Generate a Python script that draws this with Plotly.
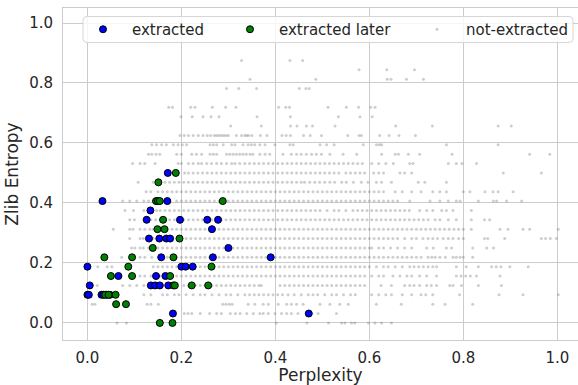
import plotly.graph_objects as go

# ---------------- data ----------------
extracted_x = [0.171, 0.032, 0.170, 0.134, 0.126, 0.197, 0.255, 0.278, 0.265,
               0.131, 0.153, 0.168, 0.176, 0.300, 0.157, 0.267, 0.390,
               0.000, 0.200, 0.209, 0.224, 0.066, 0.146, 0.166,
               0.005, 0.135, 0.144, 0.154, 0.172,
               0.000, 0.003, 0.030, 0.034, 0.041, 0.048, 0.182, 0.471]
extracted_y = [0.5, 0.40625, 0.40625, 0.375, 0.34375, 0.34375, 0.34375, 0.34375, 0.3125,
               0.28125, 0.28125, 0.28125, 0.28125, 0.25, 0.21875, 0.21875, 0.21875,
               0.1875, 0.1875, 0.1875, 0.1875, 0.15625, 0.15625, 0.15625,
               0.125, 0.125, 0.125, 0.125, 0.125,
               0.09375, 0.09375, 0.09375, 0.09375, 0.09375, 0.09375, 0.03125, 0.03125]

later_x = [0.188, 0.151, 0.146, 0.150, 0.154, 0.288, 0.161, 0.149, 0.164, 0.196,
           0.139, 0.036, 0.095, 0.183, 0.087, 0.264, 0.050, 0.095, 0.176,
           0.183, 0.186, 0.222, 0.257, 0.038, 0.045, 0.060, 0.061, 0.082, 0.154, 0.181]
later_y = [0.5, 0.46875, 0.40625, 0.40625, 0.40625, 0.40625, 0.34375, 0.3125, 0.3125, 0.28125,
           0.25, 0.21875, 0.21875, 0.21875, 0.1875, 0.1875, 0.15625, 0.15625, 0.15625,
           0.125, 0.125, 0.125, 0.125, 0.09375, 0.09375, 0.09375, 0.0625, 0.0625, 0.0, 0.0]

# not-extracted samples: perplexity (in %) per zlib-entropy level
grey_levels = [0.0, 0.03125, 0.0625, 0.09375, 0.125, 0.15625, 0.1875, 0.21875,
               0.25, 0.28125, 0.3125, 0.34375, 0.375, 0.40625, 0.4375, 0.46875,
               0.5, 0.53125, 0.5625, 0.59375, 0.625, 0.65625, 0.6875, 0.71875,
               0.75, 0.78125, 0.8125, 0.84375, 0.875]
grey_r00 = [6.3, 8.3, 40.2, 46.7, 51.3, 54.1, 54.8, 56.2, 56.9, 59.8, 61.2, 62.6, 64.7]
grey_r01 = [20.6, 21.4, 22.2, 24.0, 26.0, 27.5, 28.5, 30.4, 31.5, 32.5, 33.9, 35.3, 36.7,
            37.4, 38.5, 39.9, 41.3, 42.4, 43.4, 44.8, 47.7, 49.1, 53.0]
grey_r02 = [1.0, 1.6, 12.7, 13.5, 15.1, 28.8, 29.5, 30.2, 30.8, 34.2, 35.6, 37.4, 38.5,
            40.6, 42.4, 43.4, 44.5, 45.9, 49.5, 51.6, 53.7, 55.5, 61.5, 66.8, 73.5, 76.1, 82.0]
grey_r03 = [12, 13.5, 16, 17, 18.5, 19.5, 21, 22.5, 24, 25, 26.5, 28, 29.5, 30.5, 32, 33.5,
            34.5, 35.5, 36.5, 37.5, 38.5, 39.5, 40.5, 41.5, 42.7, 44, 45.5, 47, 48, 49, 50.5,
            52, 53, 54.5, 56, 57, 60.5, 62, 63.5, 64.7, 67, 69, 71, 72, 73.5, 79.2, 87.6, 92.7, 100.2]
grey_r04 = [2.1, 7.5, 9, 10.5, 12, 16, 19, 20.5, 21.5, 23, 24, 25, 26.5, 27.5, 28.5, 29.5,
            30.5, 31.5, 32.5, 33.5, 34.5, 35.5, 36.5, 37, 41, 42, 43, 44, 45, 46, 47, 48, 49,
            50, 51, 52, 53, 54, 55, 56, 57, 58, 59, 62.5, 64.7, 67.5, 68.6, 69.5, 70.7, 72.2,
            73.2, 74.3, 77.1, 77.8, 79.6, 83.2, 88.1]
grey_r05 = [11.2, 12.2, 13.5, 15.5, 18, 19, 20, 21, 22, 23, 24, 25, 26, 27, 28, 29, 30, 31,
            32, 33, 34, 35, 36, 37, 38, 39, 40, 41, 42, 43, 44, 45, 46, 47, 48, 49, 50, 51,
            52, 53, 54, 55, 56, 57, 58, 59, 60.5, 62, 63, 65, 66.5, 68, 69, 70.7, 72.2, 74.3,
            78.5, 79.5, 80.5, 81.5, 82.8, 87.8]
grey_r06 = [2.2, 4.2, 5.2, 14, 15, 16, 17, 18, 19, 20, 21, 22, 23, 24, 25, 26, 27, 28, 29,
            30, 31, 32, 33, 34, 35, 36, 37, 38, 39, 40, 41, 42, 43, 44, 45, 46, 47, 48, 49,
            50, 51, 52, 53, 54, 55, 56, 57, 58, 59, 60, 61.5, 63, 64, 65.5, 67, 68.6, 69.5,
            70.5, 71.5, 72.5, 73.5, 74.3, 78.5, 80.6, 83.2, 86, 87, 88, 89.9, 93.8]
grey_r07 = [7.3, 11.2, 12.2, 13.7, 17, 19, 20, 21, 22, 23, 24, 25, 26, 27, 28, 29, 30, 31,
            32, 33, 34, 35, 36, 37, 38, 39, 40, 41, 42, 43, 44, 45, 46, 47, 48, 49, 50, 51,
            52, 53, 54, 55, 56, 57, 58, 59, 60, 61, 62, 63, 64, 65, 66, 67, 68, 69, 70, 71,
            72.5, 73.3, 74, 75, 76.2, 77.8, 78.5, 79.3, 80, 82]
grey_r08 = [9.4, 10.1, 11.2, 11.9, 13, 14, 15, 16, 17, 18, 19, 20, 21, 22, 23, 24, 25, 26,
            27, 28, 29, 30, 31, 32, 33, 34, 35, 36, 37, 38, 39, 40, 41, 42, 43, 44, 45, 46,
            47, 48, 49, 50, 51, 52, 53, 54, 55, 56, 57, 58, 59, 60, 60.5, 62, 63, 64.5, 66,
            67.5, 69, 72.2, 73.6, 76.4, 77.5, 82, 85, 86.4]
grey_r09 = [9, 11.2, 11.9, 13, 14, 15, 16, 17, 18, 19, 20, 21, 22, 23, 24, 25, 26, 27, 28,
            29, 30, 31, 32, 33, 34, 35, 36, 37, 38, 39, 40, 41, 42, 43, 44, 45, 46, 47, 48,
            49, 50, 51, 52, 53, 54, 55, 56, 57, 58, 59, 60, 61, 62, 63, 64, 65, 66, 67.5,
            69, 70, 71.4, 72.5, 73.5, 74.5, 75.7, 76.8, 77.8, 79, 80, 84.5, 85.2, 88.8,
            96.6, 97.5, 98.5, 99.8]
grey_r10 = [5.5, 9, 9.7, 11.2, 12.2, 13.3, 14, 15, 16, 17, 18, 19, 20, 21, 22, 23, 24, 25,
            26, 27, 28, 29, 30, 31, 32, 33, 34, 35, 36, 37, 38, 39, 40, 41, 42, 43, 44, 45,
            46, 47, 48, 49, 50, 51, 52, 53, 54, 55, 56, 57, 58, 59, 60, 61, 62, 63, 64, 65,
            66, 67, 68, 69, 70, 71, 72, 73, 74, 75, 76, 77, 78, 79, 80, 81.7, 87.8, 89.5,
            92.7, 94.1, 100.2]
grey_r11 = [9, 10, 13.5, 14.5, 15.5, 16.5, 17.5, 18.5, 19.5, 20.5, 21.5, 22.5, 23.5, 24.5,
            25.5, 26.5, 27.5, 28.5, 29.5, 30.5, 31.5, 32.5, 33.5, 34.5, 35.5, 36.5, 37.5,
            38.5, 39.5, 40.5, 41.5, 42.5, 43.5, 44.5, 45.5, 46.5, 47.5, 48.5, 49.5, 50.5,
            51.5, 52.5, 53.5, 54.5, 55.5, 56.5, 57.5, 58.5, 59.5, 60.5, 61.5, 62.5, 63.5,
            64.5, 65.5, 66.5, 67.5, 68.5, 69.5, 70.5, 71.5, 72.5, 74, 75, 76.8, 78.5, 81.7,
            84.5, 85.6]
grey_r12 = [8, 9.8, 12, 14.7, 15.5, 16.5, 17.5, 18.5, 19.5, 20.5, 21.5, 22.5, 23.5, 24.5,
            25.5, 26.5, 27.5, 28.5, 29.5, 30.5, 31.5, 32.5, 33.5, 34.5, 35.5, 36.5, 37.5,
            38.5, 39.5, 40.5, 41.5, 42.5, 43.5, 44.5, 45.5, 46.5, 47.5, 48.5, 49.5, 51,
            52.5, 53.5, 55, 56.5, 57.5, 58.5, 59.5, 60.5, 61.5, 62.5, 63.5, 64.5, 65.5,
            66.5, 67.5, 68.5, 70.7, 72.2, 73.5, 75.4, 76.4, 77.8, 81.7]
grey_r13 = [7.5, 9, 10.5, 12, 13, 14, 16, 17.5, 19, 20, 21, 22, 23, 24, 25, 26, 27, 28,
            29, 30, 31, 32, 33, 34, 35, 36, 37, 38, 39, 40, 41, 42, 43, 44, 45, 46, 47, 48,
            49, 50, 51, 52, 53, 54, 55, 56, 57, 58, 59, 60, 61, 62, 63, 64, 65, 66, 68.6,
            72.9, 75, 76.8, 78.5, 79.3, 83.2, 86.4, 87.1, 89.2, 92.4]
grey_r14 = [12.5, 13.5, 15, 16, 17, 18, 19, 20, 21, 22, 23, 24, 25, 26, 27, 28, 29, 30,
            31, 32, 33, 34, 35, 36, 37, 38, 39, 40, 41, 42, 43, 44, 45, 46, 47, 48, 49, 50,
            51, 52, 53, 54, 55, 56, 57, 58, 59, 60, 61, 62, 63, 65.5, 67, 69, 71, 73.5, 75,
            76.4, 80, 81.4, 84.6, 86.3, 87.4, 90.6]
grey_r15 = [10.8, 14, 15.5, 16.5, 17.5, 18.5, 19.5, 20.5, 21.5, 22.5, 23.5, 24.5, 25.5,
            26.5, 27.5, 28.5, 29.5, 30.5, 31.5, 32.5, 33.5, 34.5, 35.5, 36.5, 37.5, 38.5,
            39.5, 40.5, 41.5, 42.5, 43.5, 44.5, 45.5, 46.2, 47.3, 48.4, 49.4, 50.5, 51.6,
            52.6, 54.1, 55.1, 56.6, 58.3, 59.7, 61.5, 62.6, 64.7, 70.4, 71.8, 76.4]
grey_r16 = [20.7, 21.5, 22.5, 23.5, 24.5, 25.5, 26.5, 27.5, 28.5, 29.5, 30.5, 31.5, 32.5,
            33.5, 34.5, 35.5, 36.5, 37.5, 38.5, 39.5, 40.5, 41.5, 42.5, 43.5, 44.5, 45.5,
            46.5, 47.5, 48.5, 49.5, 50.5, 51.5, 52.5, 53.5, 55, 56, 57, 58, 59, 60.9, 62,
            63, 66.5, 67.5, 69, 88.5, 96.6]
grey_r17 = [9.6, 11.2, 12.2, 14.4, 19.3, 20, 21.5, 22.5, 23.6, 24.3, 25.4, 26.4, 27.5,
            28.5, 29.6, 30.7, 31.4, 32.4, 33.5, 34.5, 35.5, 36.5, 37.5, 38.5, 39.5, 40.5,
            41.5, 42.5, 43.5, 44.5, 45.5, 46.5, 47.5, 48.5, 49.5, 50.5, 51.5, 52.5, 53.5,
            54.5, 55.5, 56.5, 57.5, 58.5, 60.5, 62, 63.5, 65.1, 68.6, 69.3, 76.8, 78.5,
            79.7, 82.8]
grey_r18 = [13, 13.7, 14.6, 15.4, 19, 20, 22.2, 23.2, 24.3, 26.1, 26.8, 27.5, 29.6, 30.3,
            31, 31.7, 32.4, 33.1, 33.8, 34.6, 35.2, 36.7, 37.8, 38.8, 41.6, 43.4, 44.5,
            45.5, 46.6, 47.7, 48.7, 49.8, 51.6, 54.4, 57.3, 62.6, 65.5, 66.2, 68.3, 70.7,
            77.6, 94.1, 98.4]
grey_r19 = [13.7, 14.7, 15.8, 16.8, 18.3, 19.3, 20.2, 21.1, 26.1, 26.8, 27.5, 28.9, 30.7,
            31.4, 33.1, 34.2, 34.9, 35.6, 36.7, 37.8, 39.9, 43.1, 43.8, 49.5, 50.9, 52.5,
            58.7, 61.5, 62.1, 62.6, 76.4, 87.4]
grey_r20 = [19.7, 20.6, 21.5, 22.5, 23.6, 24.6, 25.5, 26.2, 27, 27.5, 28, 28.5, 29, 29.5,
            30, 31.7, 32.8, 33.5, 33.9, 34.3, 35, 36.8, 38.2, 41.4, 42.3, 43.2, 46, 47.4,
            49.8, 55.4, 57.8, 58.3, 62.2, 64.2, 66.3, 69.8]
grey_r21 = [30.5, 37, 43.2, 44.6, 46.6, 47.9, 52.7, 65.6, 73.4, 87.4, 90.2]
grey_r22 = [19.9, 22.3, 24.6, 26.3, 28, 36.1, 43.2, 53.4, 58, 60.6]
grey_r23 = [17.3, 18.1, 22, 22.9, 26.6, 29.4, 31.6, 40.7, 42.2, 43, 51.2, 55.1, 57.7,
            60.3, 61.2]
grey_r24 = []
grey_r25 = [29.6, 32.2, 36, 45.1, 46.5, 47.2]
grey_r26 = [34.6, 48.6, 63.8, 64.6, 67.9, 71.5]
grey_r27 = [57.8, 63.7, 69.6]
grey_r28 = [32.8, 43.1, 45.8]

grey_rows = [grey_r00, grey_r01, grey_r02, grey_r03, grey_r04, grey_r05, grey_r06,
             grey_r07, grey_r08, grey_r09, grey_r10, grey_r11, grey_r12, grey_r13,
             grey_r14, grey_r15, grey_r16, grey_r17, grey_r18, grey_r19, grey_r20,
             grey_r21, grey_r22, grey_r23, grey_r24, grey_r25, grey_r26, grey_r27,
             grey_r28]

tick_vals = [0.0, 0.2, 0.4, 0.6, 0.8, 1.0]
tick_text = ["0.0", "0.2", "0.4", "0.6", "0.8", "1.0"]

grey_x, grey_y = [], []
for lvl, row in zip(grey_levels, grey_rows):
    for v in row:
        grey_x.append(v / 100.0)
        grey_y.append(lvl)

# ---------------- figure ----------------
W, H = 578, 385
ML, MR, MT, MB = 63, 0, 8, 45
TXT = "#262626"
GRID = "#cccccc"
FONT = "DejaVu Sans"

fig = go.Figure()
fig.add_trace(go.Scatter(
    x=grey_x, y=grey_y, mode="markers", name="not-extracted", legend="legend3",
    marker=dict(symbol="circle", size=3, color="rgba(120,120,120,0.36)", line=dict(width=0)),
))
fig.add_trace(go.Scatter(
    x=extracted_x, y=extracted_y, mode="markers", name="extracted", legend="legend",
    marker=dict(symbol="circle", size=7, color="#0000ff", line=dict(width=1, color="black")),
))
fig.add_trace(go.Scatter(
    x=later_x, y=later_y, mode="markers", name="extracted later", legend="legend2",
    marker=dict(symbol="circle", size=7, color="#008000", line=dict(width=1, color="black")),
))

pw, ph = W - ML - MR, H - MT - MB


def px_x(p):
    return (p - ML) / pw


def px_y(p):
    return (H - MB - p) / ph


# legend frame (rounded rectangle)
x0, x1, y0, y1, r = 83, 573, 16.5, 42.5, 4
rx, ry = r / pw, r / ph
X0, X1, Yt, Yb = px_x(x0), px_x(x1), px_y(y0), px_y(y1)
path = (f"M {X0+rx},{Yt} L {X1-rx},{Yt} Q {X1},{Yt} {X1},{Yt-ry} "
        f"L {X1},{Yb+ry} Q {X1},{Yb} {X1-rx},{Yb} L {X0+rx},{Yb} "
        f"Q {X0},{Yb} {X0},{Yb+ry} L {X0},{Yt-ry} Q {X0},{Yt} {X0+rx},{Yt} Z")
fig.add_shape(type="path", path=path, xref="paper", yref="paper",
              line=dict(color="#d6d6d6", width=1), fillcolor="rgba(255,255,255,0.8)",
              layer="above")

IW = 48
leg_common = dict(bgcolor="rgba(0,0,0,0)", borderwidth=0, font=dict(family=FONT, size=15, color=TXT),
                  yanchor="middle", xanchor="left", orientation="h", itemsizing="trace",
                  itemwidth=IW)
ly = px_y(29.5)
fig.update_layout(
    legend=dict(x=px_x(103 - 5 - IW / 2), y=ly, **leg_common),
    legend2=dict(x=px_x(250 - 5 - IW / 2), y=ly, **leg_common),
    legend3=dict(x=px_x(437 - 5 - IW / 2), y=ly, **leg_common),
)

axis_common = dict(showgrid=True, gridcolor=GRID, gridwidth=1, zeroline=False,
                   showline=True, linecolor=GRID, linewidth=1, mirror=True,
                   ticks="", tickvals=tick_vals, ticktext=tick_text,
                   tickfont=dict(family=FONT, size=15, color=TXT))

fig.update_layout(
    width=W, height=H, autosize=False,
    margin=dict(l=ML, r=MR, t=MT, b=MB, pad=0),
    paper_bgcolor="white", plot_bgcolor="white",
    font=dict(family=FONT, color=TXT),
    showlegend=True,
    xaxis=dict(range=[-0.052, 1.044], title=dict(text="Perplexity", font=dict(family=FONT, size=17, color=TXT), standoff=6),
               ticklabelstandoff=4, **axis_common),
    yaxis=dict(range=[-0.057, 1.05], title=dict(text="Zlib Entropy", font=dict(family=FONT, size=17, color=TXT), standoff=6),
               ticklabelstandoff=6, **axis_common),
)

fig.write_html("out.html", config={"displayModeBar": False},
               post_script="document.body.style.margin='0';document.body.style.padding='0';")
